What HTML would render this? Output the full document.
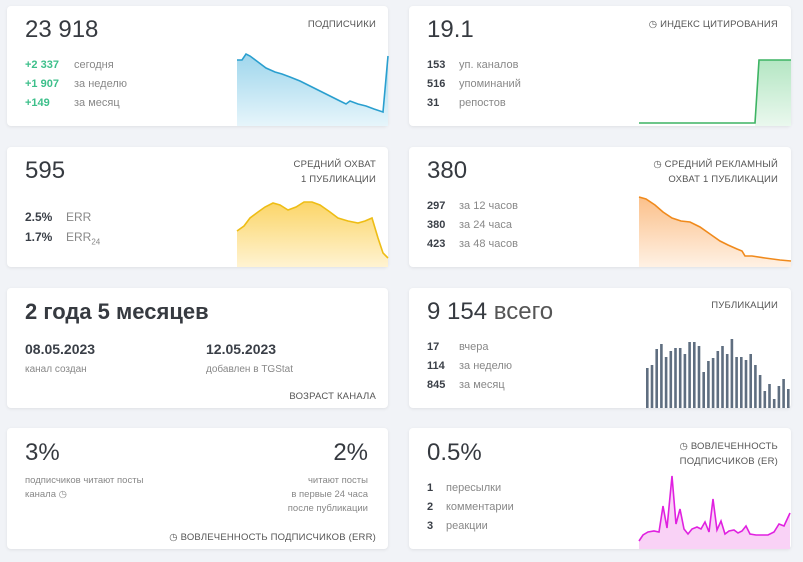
<!DOCTYPE html><html><head><meta charset="utf-8"><style>
body{margin:0;width:803px;height:562px;background:#f1f3f7;font-family:"Liberation Sans",sans-serif;position:relative;overflow:hidden;color:#3a3f47}
.c{position:absolute;background:#fff;border-radius:4px;box-shadow:0 1px 3px rgba(0,0,0,.08);overflow:hidden}
.a{position:absolute;white-space:nowrap}
.big{font-size:24px;color:#363a40}
.t{font-size:9.5px;color:#555;text-align:right;line-height:15px;letter-spacing:.2px}
.r{font-size:11px;line-height:19px}
.b{font-weight:bold;color:#3a3f47}
.g{color:#3cbf8a}.m{color:#888}
svg{position:absolute;left:0;top:0}
</style></head><body>
<div class="c" style="left:7px;top:6px;width:381px;height:120px"></div>
<div class="c" style="left:409px;top:6px;width:382px;height:120px"></div>
<div class="c" style="left:7px;top:147px;width:381px;height:120px"></div>
<div class="c" style="left:409px;top:147px;width:382px;height:120px"></div>
<div class="c" style="left:7px;top:288px;width:381px;height:120px"></div>
<div class="c" style="left:409px;top:288px;width:382px;height:120px"></div>
<div class="c" style="left:7px;top:428px;width:381px;height:121px"></div>
<div class="c" style="left:409px;top:428px;width:382px;height:121px"></div>

<svg width="803" height="562">
<defs>
<linearGradient id="gb" x1="0" y1="0" x2="0" y2="1"><stop offset="0" stop-color="#9fd6ec"/><stop offset="1" stop-color="#e6f5fb"/></linearGradient>
<linearGradient id="gy" x1="0" y1="0" x2="0" y2="1"><stop offset="0" stop-color="#fbd568"/><stop offset="1" stop-color="#fff3d2"/></linearGradient>
<linearGradient id="gg" x1="0" y1="0" x2="0" y2="1"><stop offset="0" stop-color="#b4e6c3"/><stop offset="1" stop-color="#eaf8ee"/></linearGradient>
<linearGradient id="go" x1="0" y1="0" x2="0" y2="1"><stop offset="0" stop-color="#fbc08a"/><stop offset="1" stop-color="#fff1e4"/></linearGradient>
</defs>
<path d="M237,126 L237,60 242,60 246,54 250,56 258,62 266,68 275,72 282,74 290,77 300,81 310,86 320,91 330,96 340,101 346,104 350,101 358,104 366,106 374,109 383,112 388,56 388,126Z" fill="url(#gb)"/>
<polyline points="237,60 242,60 246,54 250,56 258,62 266,68 275,72 282,74 290,77 300,81 310,86 320,91 330,96 340,101 346,104 350,101 358,104 366,106 374,109 383,112 388,56" fill="none" stroke="#2a9fcf" stroke-width="1.6"/>
<path d="M237,267 L237,231 244,226 250,218 258,212 265,207 273,203 280,205 288,210 296,207 304,202 312,202 320,205 330,212 338,218 348,221 358,223 365,221 372,218 378,238 383,253 388,258 388,267Z" fill="url(#gy)"/>
<polyline points="237,231 244,226 250,218 258,212 265,207 273,203 280,205 288,210 296,207 304,202 312,202 320,205 330,212 338,218 348,221 358,223 365,221 372,218 378,238 383,253 388,258" fill="none" stroke="#eebd15" stroke-width="1.6"/>
<path d="M755,126 L759,60 791,60 791,126Z" fill="url(#gg)"/>
<polyline points="639,123 755,123 759,60 791,60" fill="none" stroke="#3db463" stroke-width="1.6"/>
<path d="M639,267 L639,197 646,199 655,205 663,212 672,218 681,221 690,222 700,227 710,234 720,241 728,245 737,249 742,251 745,256 752,256 765,258 780,260 791,261 791,267Z" fill="url(#go)"/>
<polyline points="639,197 646,199 655,205 663,212 672,218 681,221 690,222 700,227 710,234 720,241 728,245 737,249 742,251 745,256 752,256 765,258 780,260 791,261" fill="none" stroke="#f08a1c" stroke-width="1.6"/>
<g fill="#5f6e80">
<rect x="646" y="368" width="2.6" height="40"/><rect x="650.7" y="365" width="2.6" height="43"/><rect x="655.4" y="349" width="2.6" height="59"/><rect x="660.1" y="344" width="2.6" height="64"/><rect x="664.8" y="357" width="2.6" height="51"/><rect x="669.5" y="351" width="2.6" height="57"/><rect x="674.2" y="348" width="2.6" height="60"/><rect x="678.9" y="348" width="2.6" height="60"/><rect x="683.6" y="354" width="2.6" height="54"/><rect x="688.3" y="342" width="2.6" height="66"/><rect x="693" y="342" width="2.6" height="66"/><rect x="697.7" y="346" width="2.6" height="62"/><rect x="702.4" y="372" width="2.6" height="36"/><rect x="707.1" y="361" width="2.6" height="47"/><rect x="711.8" y="358" width="2.6" height="50"/><rect x="716.5" y="351" width="2.6" height="57"/><rect x="721.2" y="346" width="2.6" height="62"/><rect x="725.9" y="354" width="2.6" height="54"/><rect x="730.6" y="339" width="2.6" height="69"/><rect x="735.3" y="357" width="2.6" height="51"/><rect x="740" y="357" width="2.6" height="51"/><rect x="744.7" y="360" width="2.6" height="48"/><rect x="749.4" y="354" width="2.6" height="54"/><rect x="754.1" y="365" width="2.6" height="43"/><rect x="758.8" y="375" width="2.6" height="33"/><rect x="763.5" y="391" width="2.6" height="17"/><rect x="768.2" y="384" width="2.6" height="24"/><rect x="772.9" y="399" width="2.6" height="9"/><rect x="777.6" y="386" width="2.6" height="22"/><rect x="782.3" y="379" width="2.6" height="29"/><rect x="787" y="389" width="2.6" height="19"/>
</g>
<path d="M639,549 L639,541 643,535 648,532 654,531 659,532 663,506 667,528 672,476 676,524 680,509 684,529 688,534 692,529 697,527 701,529 705,522 709,532 713,499 717,530 721,521 725,534 729,531 734,530 738,533 742,531 746,526 750,534 756,535 762,535 768,535 774,532 779,524 784,526 790,513 790,549Z" fill="#f9d2f6"/>
<polyline points="639,541 643,535 648,532 654,531 659,532 663,506 667,528 672,476 676,524 680,509 684,529 688,534 692,529 697,527 701,529 705,522 709,532 713,499 717,530 721,521 725,534 729,531 734,530 738,533 742,531 746,526 750,534 756,535 762,535 768,535 774,532 779,524 784,526 790,513" fill="none" stroke="#e021e0" stroke-width="1.6"/>
</svg>

<div class="a big" style="left:25px;top:16px">23 918</div>
<div class="a t" style="right:427px;top:17px">ПОДПИСЧИКИ</div>
<div class="a r g b" style="left:25px;top:56px;color:#3cbf8a">+2 337<br>+1 907<br>+149</div>
<div class="a r m" style="left:74px;top:56px">сегодня<br>за неделю<br>за месяц</div>

<div class="a big" style="left:427px;top:16px">19.1</div>
<div class="a t" style="right:25px;top:17px">◷ ИНДЕКС ЦИТИРОВАНИЯ</div>
<div class="a r b" style="left:427px;top:56px">153<br>516<br>31</div>
<div class="a r m" style="left:459px;top:56px">уп. каналов<br>упоминаний<br>репостов</div>

<div class="a big" style="left:25px;top:157px">595</div>
<div class="a t" style="right:427px;top:157px">СРЕДНИЙ ОХВАТ<br>1 ПУБЛИКАЦИИ</div>
<div class="a b" style="left:25px;top:207px;font-size:12px;line-height:20px">2.5%<br>1.7%</div>
<div class="a m" style="left:66px;top:207px;font-size:12px;line-height:20px">ERR<br>ERR<sub style="font-size:8px">24</sub></div>

<div class="a big" style="left:427px;top:157px">380</div>
<div class="a t" style="right:25px;top:157px">◷ СРЕДНИЙ РЕКЛАМНЫЙ<br>ОХВАТ 1 ПУБЛИКАЦИИ</div>
<div class="a r b" style="left:427px;top:197px">297<br>380<br>423</div>
<div class="a r m" style="left:459px;top:197px">за 12 часов<br>за 24 часа<br>за 48 часов</div>

<div class="a" style="left:25px;top:299px;font-size:22px;font-weight:bold;color:#363a40">2 года 5 месяцев</div>
<div class="a" style="left:25px;top:341px;font-size:14px;font-weight:bold">08.05.2023</div>
<div class="a m" style="left:25px;top:364px;font-size:10px">канал создан</div>
<div class="a" style="left:206px;top:341px;font-size:14px;font-weight:bold">12.05.2023</div>
<div class="a m" style="left:206px;top:364px;font-size:10px">добавлен в TGStat</div>
<div class="a t" style="right:427px;top:389px">ВОЗРАСТ КАНАЛА</div>

<div class="a big" style="left:427px;top:298px">9 154 <span style="color:#555">всего</span></div>
<div class="a t" style="right:25px;top:298px">ПУБЛИКАЦИИ</div>
<div class="a r b" style="left:427px;top:338px">17<br>114<br>845</div>
<div class="a r m" style="left:459px;top:338px">вчера<br>за неделю<br>за месяц</div>

<div class="a big" style="left:25px;top:439px">3%</div>
<div class="a big" style="right:435px;top:439px">2%</div>
<div class="a m" style="left:25px;top:474px;font-size:9.5px;line-height:14px">подписчиков читают посты<br>канала ◷</div>
<div class="a m" style="right:435px;top:474px;font-size:9.5px;line-height:14px;text-align:right">читают посты<br>в первые 24 часа<br>после публикации</div>
<div class="a t" style="right:427px;top:530px">◷ ВОВЛЕЧЕННОСТЬ ПОДПИСЧИКОВ (ERR)</div>

<div class="a big" style="left:427px;top:439px">0.5%</div>
<div class="a t" style="right:25px;top:439px">◷ ВОВЛЕЧЕННОСТЬ<br>ПОДПИСЧИКОВ (ER)</div>
<div class="a r b" style="left:427px;top:479px">1<br>2<br>3</div>
<div class="a r m" style="left:446px;top:479px">пересылки<br>комментарии<br>реакции</div>
</body></html>
